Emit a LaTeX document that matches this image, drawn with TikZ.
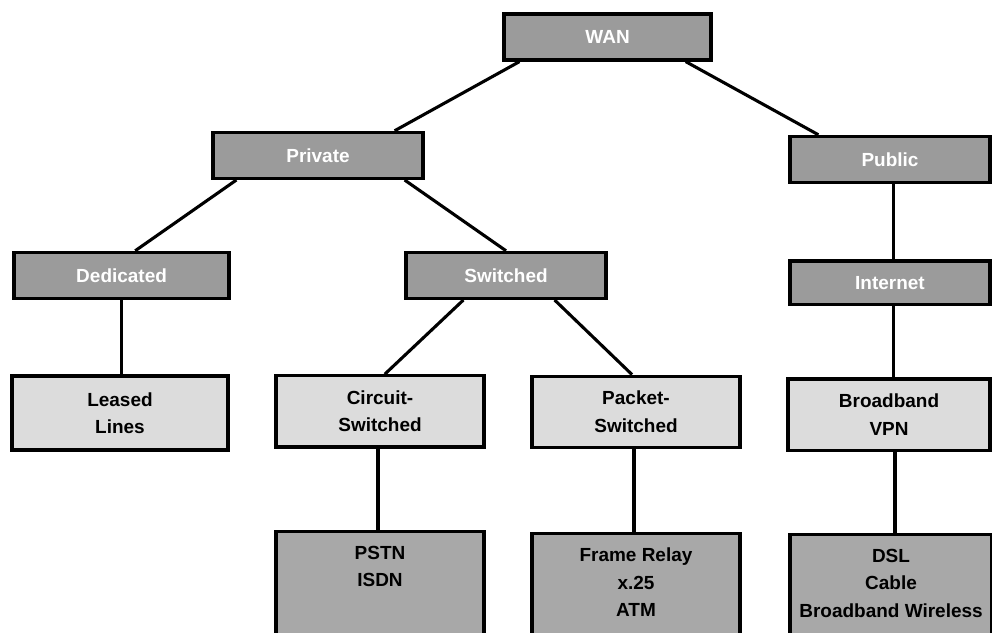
\documentclass[tikz,border=0pt]{standalone}
\usepackage{fontspec}
\setmainfont{Liberation Sans}
\definecolor{netdark}{RGB}{155,155,155}
\definecolor{netlight}{RGB}{220,220,220}
\definecolor{netmid}{RGB}{168,168,168}
\usetikzlibrary{positioning}
\begin{document}
\begin{tikzpicture}[
  top/.style={draw=black, fill=netdark, line width=2.3pt, minimum height=1.15cm, inner sep=0pt, align=center, text=white, font=\fontsize{13.5}{19.5}\selectfont\bfseries},
  mid/.style={draw=black, fill=netlight, line width=2.3pt, minimum height=1.78cm, inner sep=0pt, align=center, font=\fontsize{13.5}{19.5}\selectfont\bfseries},
  leaf/.style={draw=black, fill=netmid, line width=2.3pt, anchor=north, inner xsep=0pt, inner ysep=0.36cm, text depth=3cm, align=center, font=\fontsize{13.5}{19.5}\selectfont\bfseries},
  link/.style={line width=2.2pt, black}
]
  \fill[white] (0,0) rectangle (24.8,15.825);
  \useasboundingbox (0,0) rectangle (24.8,15.825);

  % top levels
  \node[top, minimum width=5.175cm] (wan) at (15.19,14.9) {WAN};
  \node[top, minimum width=5.25cm] (priv) at (7.95,11.94) {Private};
  \node[top, minimum width=5.0cm] (pub) at (22.25,11.84) {Public};
  \node[top, minimum width=5.375cm] (ded) at (3.04,8.94) {Dedicated};
  \node[top, minimum width=5.0cm] (sw) at (12.65,8.94) {Switched};
  \node[top, minimum width=5.0cm, minimum height=1.08cm] (inet) at (22.25,8.76) {Internet};

  % connection types
  \node[mid, minimum width=5.4cm, minimum height=1.85cm] (leased) at (3.0,5.5) {Leased\\Lines};
  \node[mid, minimum width=5.2cm] (circ) at (9.5,5.54) {Circuit-\\Switched};
  \node[mid, minimum width=5.2cm] (pkt) at (15.9,5.53) {Packet-\\Switched};
  \node[mid, minimum width=5.05cm] (bbvpn) at (22.225,5.46) {Broadband\\VPN};

  % technologies
  \node[leaf, minimum width=5.2cm] (pstn) at (9.5,2.575) {PSTN\\ISDN};
  \node[leaf, minimum width=5.2cm] (frame) at (15.9,2.525) {Frame Relay\\x.25\\ATM};
  \node[leaf, minimum width=5.05cm] (dsl) at (22.275,2.5) {DSL\\Cable\\Broadband Wireless};

  \draw[link] ([xshift=0.425cm]wan.south west) -- ([xshift=-0.75cm]priv.north east);
  \draw[link] ([xshift=-0.675cm]wan.south east) -- ([xshift=0.75cm]pub.north west);
  \draw[link] ([xshift=0.625cm]priv.south west) -- ([xshift=0.34cm]ded.north);
  \draw[link] ([xshift=-0.5cm]priv.south east) -- (sw.north);
  \draw[link] ([xshift=1.475cm]sw.south west) -- ([xshift=0.12cm]circ.north);
  \draw[link] ([xshift=-1.325cm]sw.south east) -- ([xshift=-0.1cm]pkt.north);
  \draw[link] ([xshift=0.08cm]pub.south) -- ([xshift=0.08cm]pub.south |- inet.north);
  \draw[link] ([xshift=0.08cm]inet.south) -- ([xshift=0.08cm]inet.south |- bbvpn.north);
  \draw[link] ([xshift=0.15cm]bbvpn.south) -- ([xshift=0.15cm]bbvpn.south |- dsl.north);
  \draw[link] (ded.south) -- (ded.south |- leased.north);
  \draw[link] ([xshift=-0.05cm]circ.south) -- ([xshift=-0.05cm]circ.south |- pstn.north);
  \draw[link] ([xshift=-0.05cm]pkt.south) -- ([xshift=-0.05cm]pkt.south |- frame.north);
\end{tikzpicture}
\end{document}
